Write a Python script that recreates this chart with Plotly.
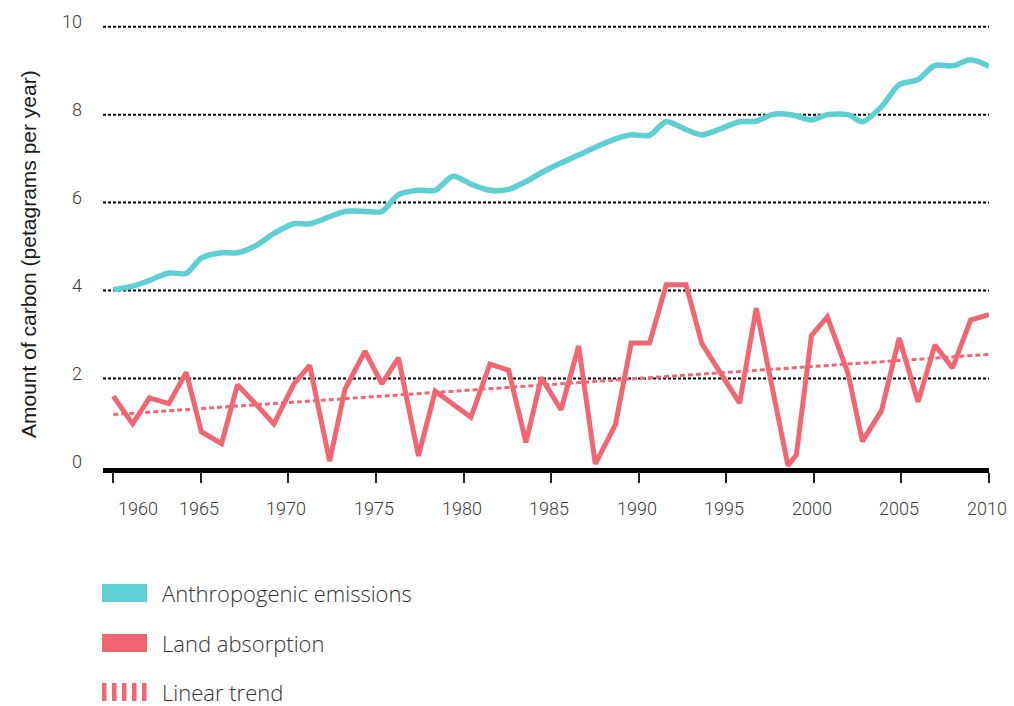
import plotly.graph_objects as go

# Year positions of the sampled points
years = [1960.0, 1961.1, 1962.06, 1963.17, 1964.16, 1965.03, 1966.18, 1967.09, 1968.13, 1969.17,
         1970.31, 1971.21, 1972.35, 1973.23, 1974.37, 1975.33, 1976.28, 1977.42, 1978.38, 1979.4,
         1980.42, 1981.5, 1982.57, 1983.56, 1984.44, 1985.56, 1986.57, 1987.52, 1988.67, 1989.57,
         1990.62, 1991.57, 1992.7, 1993.6, 1994.68, 1995.76, 1996.71, 1997.6, 1998.52, 1999.0,
         1999.86, 2000.77, 2001.95, 2002.77, 2003.86, 2004.87, 2005.95, 2006.91, 2007.92, 2008.95,
         2010.0]

# Anthropogenic emissions (PgC / yr)
emissions = [4.02, 4.10, 4.23, 4.40, 4.39, 4.74, 4.86, 4.86, 5.02, 5.30,
             5.52, 5.52, 5.68, 5.80, 5.80, 5.80, 6.18, 6.28, 6.28, 6.60,
             6.42, 6.28, 6.30, 6.48, 6.68, 6.90, 7.08, 7.26, 7.45, 7.54,
             7.53, 7.84, 7.66, 7.54, 7.68, 7.84, 7.85, 8.00, 8.01, 7.97,
             7.88, 8.00, 8.00, 7.84, 8.18, 8.68, 8.80, 9.12, 9.11, 9.25,
             9.10]

# Land absorption (PgC / yr)
land = [1.60, 0.97, 1.56, 1.43, 2.14, 0.79, 0.52, 1.86, 1.42, 0.97,
        1.88, 2.30, 0.12, 1.76, 2.62, 1.88, 2.47, 0.24, 1.71, 1.41,
        1.12, 2.33, 2.19, 0.55, 2.02, 1.29, 2.74, 0.06, 0.95, 2.81,
        2.81, 4.13, 4.13, 2.80, 2.12, 1.44, 3.60, 1.84, 0.02, 0.26,
        2.98, 3.40, 2.12, 0.57, 1.27, 2.92, 1.47, 2.76, 2.24, 3.33,
        3.45]

# Linear trend of land absorption
trend_years = [1960, 2010]
trend_values = [1.18, 2.55]

x_ticks = [1960, 1965, 1970, 1975, 1980, 1985, 1990, 1995, 2000, 2005, 2010]
y_ticks = [0, 2, 4, 6, 8, 10]

legend_labels = ["Anthropogenic emissions", "Land absorption", "Linear trend"]

CYAN = "#5ecfd2"
RED = "#f16672"

W, H = 1014, 706
L, R, T, B = 103, 25, 21, 238
PW, PH = W - L - R, H - T - B


def px(xp):
    return (xp - L) / PW


def py(yp):
    return (H - B - yp) / PH


fig = go.Figure()

fig.add_trace(go.Scatter(
    x=trend_years, y=trend_values, mode="lines",
    line=dict(color=RED, width=3, dash="5px,3px"),
    hoverinfo="skip", showlegend=False))

fig.add_trace(go.Scatter(
    x=years, y=land, mode="lines",
    line=dict(color=RED, width=5),
    showlegend=False))

fig.add_trace(go.Scatter(
    x=years, y=emissions, mode="lines",
    line=dict(color=CYAN, width=5.5, shape="spline", smoothing=0.8),
    showlegend=False))

shapes = []
# dotted horizontal gridlines (the zero line is the heavy axis)
for v in y_ticks:
    if v == 0:
        continue
    shapes.append(dict(type="line", xref="paper", yref="y", x0=0, x1=1, y0=v, y1=v,
                       line=dict(color="black", width=2, dash="3px,2px"), layer="below"))

# legend swatches
shapes.append(dict(type="rect", xref="paper", yref="paper",
                   x0=px(102), x1=px(147), y0=py(602), y1=py(584),
                   line=dict(width=0), fillcolor=CYAN))
shapes.append(dict(type="rect", xref="paper", yref="paper",
                   x0=px(102), x1=px(147), y0=py(652), y1=py(634),
                   line=dict(width=0), fillcolor=RED))
for i in range(5):
    x0 = 102 + i * 10
    shapes.append(dict(type="rect", xref="paper", yref="paper",
                       x0=px(x0), x1=px(x0 + 4.5), y0=py(701), y1=py(683),
                       line=dict(width=0), fillcolor=RED))

annotations = []
# x tick labels (first one nudged right, clear of the axis corner)
for t in x_ticks:
    annotations.append(dict(x=t, xref="x", y=py(508), yref="paper", text=str(t),
                            showarrow=False, xanchor="center", yanchor="middle",
                            xshift=25 if t == 1960 else -2,
                            font=dict(family="Roboto", size=18, color="#3a3a3a", weight=300)))

annotations.append(dict(x=px(28), xref="paper", y=py(254), yref="paper",
                        text="Amount of carbon (petagrams per year)", textangle=-90,
                        showarrow=False, xanchor="center", yanchor="middle",
                        font=dict(family="Liberation Sans", size=21, color="#1a1a1a")))

for lbl, yc in zip(legend_labels, [593, 643, 692]):
    annotations.append(dict(x=px(160), xref="paper", y=py(yc), yref="paper", text=lbl,
                            showarrow=False, xanchor="left", yanchor="middle",
                            font=dict(family="Open Sans", size=22, color="#333", weight=300)))

s = 43.98
y_lo = -(468 - 466.5) / s
y_hi = y_lo + PH / s

fig.update_layout(
    width=W, height=H, autosize=False,
    margin=dict(l=L, r=R, t=T, b=B, pad=0),
    paper_bgcolor="white", plot_bgcolor="white",
    shapes=shapes, annotations=annotations,
    xaxis=dict(range=[1959.41, 2010], showgrid=False, zeroline=False,
               showline=True, linewidth=5, linecolor="black",
               ticks="outside", ticklen=10, tickwidth=2, tickcolor="#222",
               tickvals=x_ticks, showticklabels=False, fixedrange=True),
    yaxis=dict(range=[y_lo, y_hi], showgrid=False, zeroline=False, showline=False,
               tickvals=y_ticks, ticks="", ticklabelshift=-5, ticklabelstandoff=20,
               tickfont=dict(family="Roboto", size=18, color="#3a3a3a", weight=300),
               fixedrange=True),
    showlegend=False,
)

fig.write_html("out.html")
